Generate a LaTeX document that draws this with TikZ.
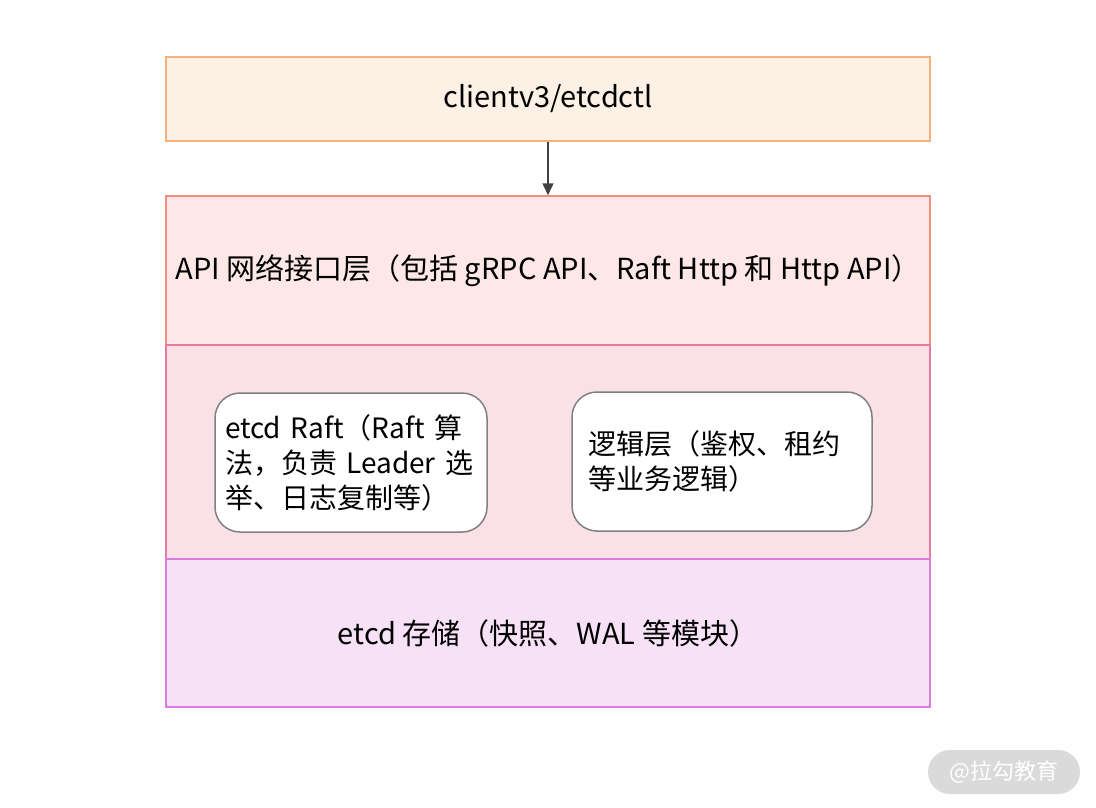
\documentclass[tikz,border=0pt]{standalone}
\usepackage{fontspec}
\setmainfont{Noto Sans CJK SC}
\usetikzlibrary{arrows.meta}

\definecolor{clientfill}{HTML}{FDF0E4}
\definecolor{clientline}{HTML}{F5B07C}
\definecolor{apifill}{HTML}{FDE8E7}
\definecolor{apiline}{HTML}{F28C80}
\definecolor{corefill}{HTML}{FAE1E8}
\definecolor{coreline}{HTML}{E97C9C}
\definecolor{storefill}{HTML}{F7E1F6}
\definecolor{storeline}{HTML}{D97DDF}
\definecolor{arrowgray}{HTML}{404040}
\definecolor{markgray}{HTML}{DADADA}

\tikzset{
  layer/.style={draw, line width=1.5pt, minimum width=764pt, inner sep=0pt,
    font=\fontsize{29}{35}\selectfont},
  module/.style={draw=gray, line width=1.5pt, fill=white, rounded corners=25pt,
    minimum height=139pt, align=left, inner ysep=0pt,
    font=\fontsize{28}{35}\selectfont},
}

\begin{document}
\begin{tikzpicture}[x=1pt,y=-1pt]
\useasboundingbox (0,0) rectangle (1096,807);

% layers, drawn top to bottom
\node[layer, draw=clientline, fill=clientfill, minimum height=84pt] (client) at (548,99) {clientv3/etcdctl};
\node[layer, draw=apiline, fill=apifill, minimum height=149pt] (api) at (548,270.5) {API 网络接口层（包括 gRPC API、Raft Http 和 Http API）};
\node[layer, draw=coreline, fill=corefill, minimum height=214pt] (core) at (548,452) {};
\node[layer, draw=storeline, fill=storefill, minimum height=148pt] (store) at (548,633) {etcd 存储（快照、WAL 等模块）};

% modules inside the core layer
\node[module, minimum width=272pt, text width=256pt, inner xsep=8pt] (raft) at (351,462.5)
  {\hspace*{2pt}etcd Raft（Raft 算\\\hspace*{2pt}法，负责 Leader 选\\\hspace*{2pt}举、日志复制等）};
\node[module, minimum width=300pt, text width=268pt, inner xsep=16pt] (logic) at (722,461.5)
  {逻辑层（鉴权、租约\\等业务逻辑）};

\draw[arrowgray, line width=1.5pt, -{Triangle[width=11pt,length=12pt]}] (client) -- (api);

% watermark
\node[fill=markgray, text=white, rounded corners=22pt, minimum width=152pt,
  minimum height=44pt, font=\fontsize{22}{26}\selectfont] (mark) at (1004,772) {@拉勾教育};
\end{tikzpicture}
\end{document}
